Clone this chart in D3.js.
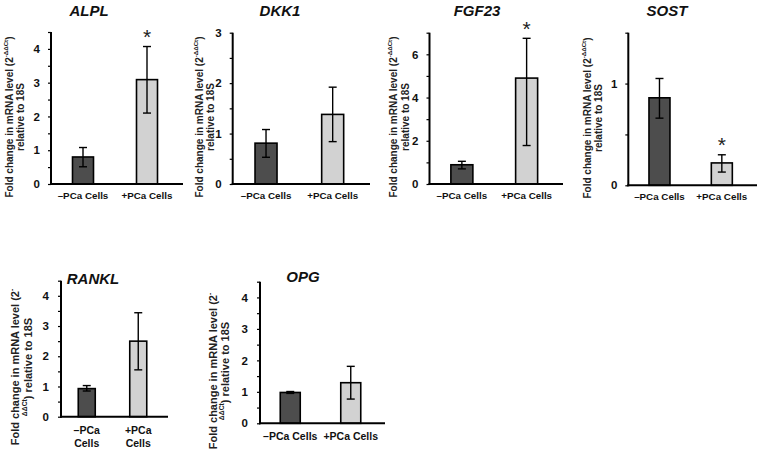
<!DOCTYPE html>
<html>
<head>
<meta charset="utf-8">
<script src="https://cdn.jsdelivr.net/npm/d3@7"></script>
<style>
  body { margin: 0; background: #fff; }
  svg { display: block; font-family: 'Liberation Sans', Arial, sans-serif; }
</style>
</head>
<body>
<svg width="760" height="450"></svg>
<script>
// gene panels, in reading order
const genes = ['ALPL', 'DKK1', 'FGF23', 'SOST', 'RANKL', 'OPG'];
const groups = ['\u2013PCa Cells', '+PCa Cells'];

// mean fold change, per gene
const meanNeg = [0.8, 0.81, 0.89, 0.86, 0.93, 0.98];
const meanPos = [3.09, 1.38, 4.9, 0.22, 2.5, 1.29];

// error bar ends
const lowNeg = [0.51, 0.53, 0.7, 0.66, 0.85, 0.95];
const highNeg = [1.08, 1.08, 1.05, 1.05, 1.03, 1.01];
const lowPos = [2.1, 0.84, 1.78, 0.13, 1.55, 0.77];
const highPos = [4.07, 1.92, 6.74, 0.3, 3.44, 1.81];

// significance star on the +PCa bar
const starPos = [true, false, true, true, false, false];

// y axis ranges and ticks
const yMax = [4.5, 3, 7, 1.5, 4.5, 4.5];
const majorStep = [1, 1, 2, 1, 1, 1];
const minorStep = [0.5, 0.5, 1, 0.5, 0.5, 0.5];

// layout of each panel (pixels)
const layout = [
  { ax: 51, xEnd: 183, y0: 184, y1: 32, bw: 21, tx: 89, ty: 16, lx: [9, 20], ly: 117, catY: 198.5, wrap: false, big: false },
  { ax: 232.7, xEnd: 370, y0: 184, y1: 32.7, bw: 22, tx: 280, ty: 16, lx: [199, 210.5], ly: 117, catY: 198.5, wrap: false, big: false },
  { ax: 429.5, xEnd: 563, y0: 184, y1: 32.7, bw: 22, tx: 477, ty: 16, lx: [393, 405], ly: 117, catY: 198.5, wrap: false, big: false },
  { ax: 628.3, xEnd: 757, y0: 185.3, y1: 32.7, bw: 21, tx: 667, ty: 16, lx: [587, 598], ly: 118, catY: 199.5, wrap: false, big: false },
  { ax: 61, xEnd: 168, y0: 416.7, y1: 280.7, bw: 17, tx: 93, ty: 284, lx: [15, 28], ly: 367, catY: 433.5, wrap: true, big: true },
  { ax: 260, xEnd: 385, y0: 423.3, y1: 281.7, bw: 20, tx: 303, ty: 282, lx: [213, 225], ly: 371, catY: 439.5, wrap: false, big: true },
];

const fills = ['#4d4d4d', '#d2d2d2'];

const svg = d3.select('svg');

genes.forEach((gene, i) => {
  const L = layout[i];
  const g = svg.append('g');

  const y = d3.scaleLinear().domain([0, yMax[i]]).range([L.y0, L.y1]);
  const x = d3.scalePoint().domain(groups).range([L.ax, L.xEnd - 4]).padding(0.5);

  const bars = [
    { grp: groups[0], v: meanNeg[i], lo: lowNeg[i], hi: highNeg[i], star: false, fill: fills[0] },
    { grp: groups[1], v: meanPos[i], lo: lowPos[i], hi: highPos[i], star: starPos[i], fill: fills[1] },
  ];

  // bars
  g.selectAll('rect')
    .data(bars)
    .enter()
    .append('rect')
    .attr('x', d => x(d.grp) - L.bw / 2)
    .attr('y', d => y(d.v))
    .attr('width', L.bw)
    .attr('height', d => y(0) - y(d.v))
    .attr('fill', d => d.fill)
    .attr('stroke', '#000')
    .attr('stroke-width', 1.6);

  // error bars
  const eb = g.selectAll('g.err').data(bars).enter().append('g').attr('class', 'err')
    .attr('stroke', '#000').attr('stroke-width', 1.4);
  eb.append('line')
    .attr('x1', d => x(d.grp)).attr('x2', d => x(d.grp))
    .attr('y1', d => y(d.lo)).attr('y2', d => y(d.hi));
  eb.append('line')
    .attr('x1', d => x(d.grp) - 4).attr('x2', d => x(d.grp) + 4)
    .attr('y1', d => y(d.lo)).attr('y2', d => y(d.lo));
  eb.append('line')
    .attr('x1', d => x(d.grp) - 4).attr('x2', d => x(d.grp) + 4)
    .attr('y1', d => y(d.hi)).attr('y2', d => y(d.hi));

  // stars
  g.selectAll('text.star')
    .data(bars.filter(d => d.star))
    .enter()
    .append('text')
    .attr('class', 'star')
    .attr('x', d => x(d.grp))
    .attr('y', d => y(d.hi) - 2.5)
    .attr('text-anchor', 'middle')
    .attr('font-size', 21)
    .attr('fill', '#222')
    .text('*');

  // y axis with minor ticks, labels on major only
  const tickVals = d3.range(0, yMax[i] + 1e-9, minorStep[i]);
  const isMajor = v => Math.abs(v / majorStep[i] - Math.round(v / majorStep[i])) < 1e-6;
  const yAxis = d3.axisLeft(y)
    .tickValues(tickVals)
    .tickSize(3)
    .tickPadding(L.big ? 9 : 8)
    .tickFormat(v => (isMajor(v) ? d3.format('d')(v) : ''));
  const ya = g.append('g').attr('transform', `translate(${L.ax},0)`).call(yAxis);
  ya.select('.domain').remove();
  ya.selectAll('.tick line').attr('stroke', '#000').attr('stroke-width', 1.2);
  ya.selectAll('.tick text')
    .attr('font-size', 11.5)
    .attr('font-weight', 'bold')
    .attr('fill', '#111');
  g.append('line')
    .attr('x1', L.ax).attr('x2', L.ax)
    .attr('y1', L.y1).attr('y2', L.y0 + 1)
    .attr('stroke', '#000').attr('stroke-width', 2);

  // x axis baseline
  g.append('line')
    .attr('x1', L.ax - 1).attr('x2', L.xEnd)
    .attr('y1', L.y0).attr('y2', L.y0)
    .attr('stroke', '#000').attr('stroke-width', 2);

  // category labels
  groups.forEach(cat => {
    const t = g.append('text')
      .attr('x', x(cat))
      .attr('y', L.catY)
      .attr('text-anchor', 'middle')
      .attr('font-size', L.big ? 10.5 : 9.8)
      .attr('font-weight', 'bold')
      .attr('fill', '#111');
    if (L.wrap) {
      const parts = cat.split(' ');
      t.append('tspan').attr('x', x(cat)).text(parts[0]);
      t.append('tspan').attr('x', x(cat)).attr('dy', 13.5).text(parts[1]);
    } else {
      t.text(cat);
    }
  });

  // title
  g.append('text')
    .attr('x', L.tx)
    .attr('y', L.ty)
    .attr('text-anchor', 'middle')
    .attr('font-size', 15)
    .attr('font-weight', 'bold')
    .attr('font-style', 'italic')
    .attr('fill', '#111')
    .text(gene);

  // y axis title, two rotated lines
  const fs = L.big ? 11 : 10;
  const sup = fs * 0.62;
  const l1 = g.append('text')
    .attr('transform', `translate(${L.lx[0]},${L.ly}) rotate(-90)`)
    .attr('text-anchor', 'middle')
    .attr('dominant-baseline', 'central')
    .attr('font-size', fs)
    .attr('font-weight', 'bold')
    .attr('fill', '#222');
  const l2 = g.append('text')
    .attr('transform', `translate(${L.lx[1]},${L.ly}) rotate(-90)`)
    .attr('text-anchor', 'middle')
    .attr('dominant-baseline', 'central')
    .attr('font-size', fs)
    .attr('font-weight', 'bold')
    .attr('fill', '#222');
  l1.append('tspan').text('Fold change in mRNA level (2');
  if (L.big) {
    l1.append('tspan').attr('font-size', sup).attr('dy', -fs * 0.4).text('-');
    l2.append('tspan').attr('font-size', sup).attr('dy', -fs * 0.4).text('\u0394\u0394Ct');
    l2.append('tspan').attr('dy', fs * 0.4).text(') relative to 18S');
  } else {
    l1.append('tspan').attr('font-size', sup).attr('dy', -fs * 0.4).text('-\u0394\u0394Ct');
    l1.append('tspan').attr('dy', fs * 0.4).text(')');
    l2.text('relative to 18S');
  }
});
</script>
</body>
</html>
